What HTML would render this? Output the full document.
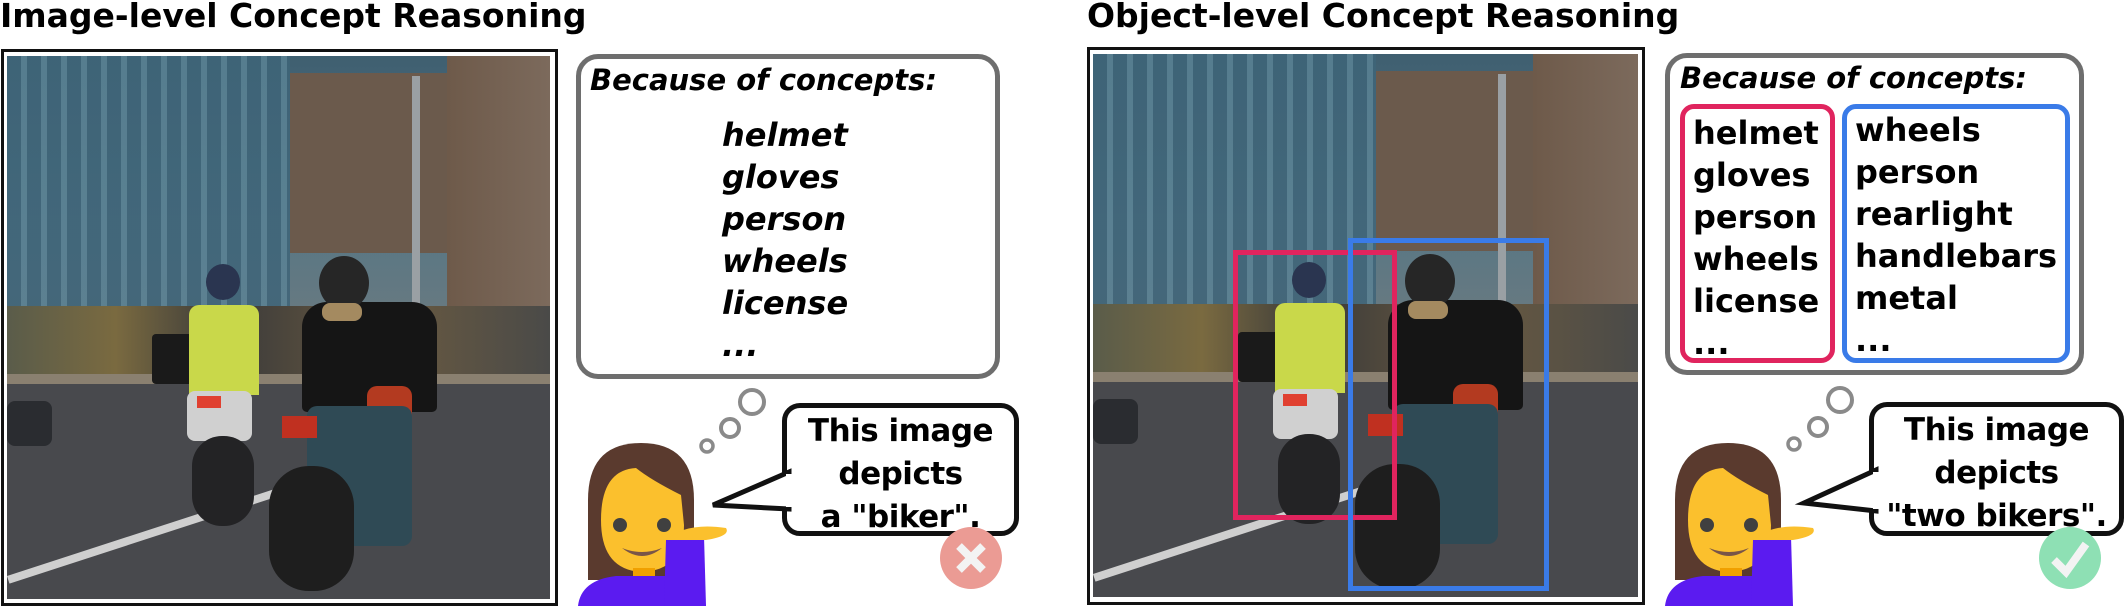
<!DOCTYPE html>
<html><head><meta charset="utf-8"><style>
body{margin:0;width:2126px;height:606px;background:#fff;position:relative;overflow:hidden;font-family:"DejaVu Sans","Liberation Sans",sans-serif;}
.a{position:absolute;}
.title{font-weight:bold;font-size:33px;top:-4px;white-space:nowrap;}
.frame{border:3px solid #111;background:#fff;}
.photo{position:absolute;width:543px;height:543px;overflow:hidden;background:linear-gradient(#3f5f70 0%,#567685 30%,#6a7a80 50%,#5a5a58 62%,#4b4c50 68%,#45464a 100%);}
.photo div{position:absolute;}
.cbox{border:5px solid #6e6e6e;border-radius:22px;background:#fff;box-sizing:border-box;}
.bec{font-weight:bold;font-style:italic;font-size:29px;white-space:nowrap;}
.li{font-weight:bold;font-size:32px;line-height:42px;white-space:pre;}
.bub{border:5px solid #111;border-radius:18px;background:#fff;box-sizing:border-box;font-weight:bold;font-size:31px;line-height:43px;text-align:center;white-space:nowrap;letter-spacing:-0.5px;}
</style></head><body>

<div class="a title" style="left:0;">Image-level Concept Reasoning</div>
<div class="a title" style="left:1087px;">Object-level Concept Reasoning</div>

<!-- left photo -->
<div class="a frame" style="left:1px;top:49px;width:551px;height:551px;"></div>
<div class="photo" style="left:7px;top:56px;">
  <div style="left:283px;top:17px;width:157px;height:180px;background:#6b5a4c;"></div>
  <div style="left:440px;top:0;width:103px;height:260px;background:linear-gradient(90deg,#6e5a4a,#7c6a5c);"></div>
  <div style="left:0;top:0;width:283px;height:290px;background:repeating-linear-gradient(90deg,#3e6478 0 14px,#5a8294 14px 20px);opacity:.85;"></div>
  <div style="left:0;top:250px;width:543px;height:70px;background:linear-gradient(90deg,#5a5c4a,#7a6a40 20%,#3a3a3a 40%,#6a5a40 70%,#4a4a48);"></div>
  <div style="left:0;top:318px;width:543px;height:10px;background:#8a8070;"></div>
  <div style="left:0;top:328px;width:543px;height:215px;background:#48494d;"></div>
  <div style="left:0;top:520px;width:300px;height:8px;background:#cfcfcf;transform:rotate(-18deg);transform-origin:0 0;"></div>
  <div style="left:405px;top:20px;width:8px;height:300px;background:#9aa0a4;"></div>
  <div style="left:145px;top:278px;width:50px;height:50px;background:#1a1a1a;border-radius:4px;"></div>
  <div style="left:182px;top:249px;width:70px;height:90px;background:#c9d84a;border-radius:10px 10px 0 0;"></div>
  <div style="left:199px;top:208px;width:34px;height:36px;background:#2a3550;border-radius:50%;"></div>
  <div style="left:180px;top:335px;width:65px;height:50px;background:#d0d0d0;border-radius:8px;"></div>
  <div style="left:185px;top:380px;width:62px;height:90px;background:#232325;border-radius:30px;"></div>
  <div style="left:190px;top:340px;width:24px;height:12px;background:#e04030;"></div>
  <div style="left:295px;top:246px;width:135px;height:110px;background:#151515;border-radius:25px 25px 5px 5px;"></div>
  <div style="left:312px;top:200px;width:50px;height:54px;background:#262626;border-radius:50%;"></div>
  <div style="left:315px;top:247px;width:40px;height:18px;background:#a48a60;border-radius:8px;"></div>
  <div style="left:360px;top:330px;width:45px;height:45px;background:#b33a20;border-radius:10px;"></div>
  <div style="left:300px;top:350px;width:105px;height:140px;background:#2f4a55;border-radius:10px;"></div>
  <div style="left:262px;top:410px;width:85px;height:125px;background:#1e1e1e;border-radius:40px;"></div>
  <div style="left:275px;top:360px;width:35px;height:22px;background:#c03020;"></div>
  <div style="left:0;top:345px;width:45px;height:45px;background:#2a2c30;border-radius:8px;"></div>
</div>

<!-- left concept box -->
<div class="a cbox" style="left:576px;top:54px;width:424px;height:325px;"></div>
<div class="a bec" style="left:590px;top:63px;">Because of concepts:</div>
<div class="a li" style="left:722px;top:114px;font-style:italic;">helmet
gloves
person
wheels
license
...</div>

<svg class="a" style="left:0;top:0" width="2126" height="606">
  <g fill="none" stroke="#8a8a8a">
    <circle cx="752" cy="402" r="12" stroke-width="4"/>
    <circle cx="730" cy="428" r="9" stroke-width="4"/>
    <circle cx="707" cy="446" r="6" stroke-width="3.5"/>
    <circle cx="1840" cy="400" r="12" stroke-width="4"/>
    <circle cx="1818" cy="427" r="9" stroke-width="4"/>
    <circle cx="1794" cy="444" r="6" stroke-width="3.5"/>
  </g>
</svg>
<div class="a bub" style="left:782px;top:403px;width:237px;height:133px;padding-top:2px;">This image<br>depicts<br>a "biker".</div>
<div class="a bub" style="left:1869px;top:402px;width:255px;height:134px;padding-top:2px;">This image<br>depicts<br>"two bikers".</div>

<!-- woman emojis -->
<svg class="a" style="left:576px;top:440px" width="160" height="166" viewBox="0 0 160 166">
  <path d="M12 140 L12 60 Q12 3 65 3 Q118 3 118 60 L118 140 Z" fill="#5a3a2e"/>
  <path d="M25 80 Q25 30 60 28 Q75 40 105 55 L108 85 Q108 130 66 132 Q25 130 25 80Z" fill="#fbc02d"/>
  <circle cx="44" cy="85" r="7" fill="#404040"/><circle cx="88" cy="85" r="7" fill="#404040"/>
  <path d="M46 108 Q66 124 86 108 Q66 116 46 108Z" fill="#795548"/>
  <rect x="57" y="128" width="22" height="16" fill="#f0a000"/>
  <path d="M2 166 Q5 140 40 136 L95 136 L100 166Z" fill="#5b1bf0"/>
  <path d="M88 166 L90 100 L128 96 L130 166Z" fill="#5b1bf0"/>
  <path d="M90 100 Q110 82 150 88 Q155 96 130 100 Z" fill="#fbc02d"/>
</svg>
<svg class="a" style="left:1663px;top:440px" width="160" height="166" viewBox="0 0 160 166">
  <path d="M12 140 L12 60 Q12 3 65 3 Q118 3 118 60 L118 140 Z" fill="#5a3a2e"/>
  <path d="M25 80 Q25 30 60 28 Q75 40 105 55 L108 85 Q108 130 66 132 Q25 130 25 80Z" fill="#fbc02d"/>
  <circle cx="44" cy="85" r="7" fill="#404040"/><circle cx="88" cy="85" r="7" fill="#404040"/>
  <path d="M46 108 Q66 124 86 108 Q66 116 46 108Z" fill="#795548"/>
  <rect x="57" y="128" width="22" height="16" fill="#f0a000"/>
  <path d="M2 166 Q5 140 40 136 L95 136 L100 166Z" fill="#5b1bf0"/>
  <path d="M88 166 L90 100 L128 96 L130 166Z" fill="#5b1bf0"/>
  <path d="M90 100 Q110 82 150 88 Q155 96 130 100 Z" fill="#fbc02d"/>
</svg>

<!-- right photo -->
<div class="a frame" style="left:1087px;top:47px;width:552px;height:552px;"></div>
<div class="photo" style="left:1093px;top:54px;width:545px;">
  <div style="left:283px;top:17px;width:157px;height:180px;background:#6b5a4c;"></div>
  <div style="left:440px;top:0;width:105px;height:260px;background:linear-gradient(90deg,#6e5a4a,#7c6a5c);"></div>
  <div style="left:0;top:0;width:283px;height:290px;background:repeating-linear-gradient(90deg,#3e6478 0 14px,#5a8294 14px 20px);opacity:.85;"></div>
  <div style="left:0;top:250px;width:545px;height:70px;background:linear-gradient(90deg,#5a5c4a,#7a6a40 20%,#3a3a3a 40%,#6a5a40 70%,#4a4a48);"></div>
  <div style="left:0;top:318px;width:545px;height:10px;background:#8a8070;"></div>
  <div style="left:0;top:328px;width:545px;height:215px;background:#48494d;"></div>
  <div style="left:0;top:520px;width:300px;height:8px;background:#cfcfcf;transform:rotate(-18deg);transform-origin:0 0;"></div>
  <div style="left:405px;top:20px;width:8px;height:300px;background:#9aa0a4;"></div>
  <div style="left:145px;top:278px;width:50px;height:50px;background:#1a1a1a;border-radius:4px;"></div>
  <div style="left:182px;top:249px;width:70px;height:90px;background:#c9d84a;border-radius:10px 10px 0 0;"></div>
  <div style="left:199px;top:208px;width:34px;height:36px;background:#2a3550;border-radius:50%;"></div>
  <div style="left:180px;top:335px;width:65px;height:50px;background:#d0d0d0;border-radius:8px;"></div>
  <div style="left:185px;top:380px;width:62px;height:90px;background:#232325;border-radius:30px;"></div>
  <div style="left:190px;top:340px;width:24px;height:12px;background:#e04030;"></div>
  <div style="left:295px;top:246px;width:135px;height:110px;background:#151515;border-radius:25px 25px 5px 5px;"></div>
  <div style="left:312px;top:200px;width:50px;height:54px;background:#262626;border-radius:50%;"></div>
  <div style="left:315px;top:247px;width:40px;height:18px;background:#a48a60;border-radius:8px;"></div>
  <div style="left:360px;top:330px;width:45px;height:45px;background:#b33a20;border-radius:10px;"></div>
  <div style="left:300px;top:350px;width:105px;height:140px;background:#2f4a55;border-radius:10px;"></div>
  <div style="left:262px;top:410px;width:85px;height:125px;background:#1e1e1e;border-radius:40px;"></div>
  <div style="left:275px;top:360px;width:35px;height:22px;background:#c03020;"></div>
  <div style="left:0;top:345px;width:45px;height:45px;background:#2a2c30;border-radius:8px;"></div>
</div>
<div class="a" style="left:1233px;top:250px;width:154px;height:260px;border:5px solid #e0245e;"></div>
<div class="a" style="left:1348px;top:238px;width:191px;height:343px;border:5px solid #3a7be8;"></div>

<!-- right concept box -->
<div class="a cbox" style="left:1665px;top:53px;width:419px;height:322px;"></div>
<div class="a bec" style="left:1680px;top:61px;">Because of concepts:</div>
<div class="a" style="left:1680px;top:104px;width:155px;height:259px;border:5px solid #e0245e;border-radius:14px;box-sizing:border-box;"></div>
<div class="a" style="left:1842px;top:104px;width:228px;height:259px;border:5px solid #3a7be8;border-radius:14px;box-sizing:border-box;"></div>
<div class="a li" style="left:1693px;top:112px;">helmet
gloves
person
wheels
license
...</div>
<div class="a li" style="left:1855px;top:109px;">wheels
person
rearlight
handlebars
metal
...</div>

<svg class="a" style="left:0;top:0" width="2126" height="606">
  <polygon points="789,472 713,505 789,509" fill="#fff" stroke="#111" stroke-width="5"/>
  <rect x="786" y="474" width="8" height="33" fill="#fff"/>
  <polygon points="1876,470 1804,503 1876,511" fill="#fff" stroke="#111" stroke-width="5"/>
  <rect x="1873" y="472" width="8" height="37" fill="#fff"/>
  <circle cx="971" cy="558" r="31" fill="#eb9b94"/>
  <path d="M959 546 L983 570 M983 546 L959 570" stroke="#f3f3f3" stroke-width="8"/>
  <circle cx="2070" cy="558" r="31" fill="#8ee0b4"/>
  <path d="M2054 560 L2066 572 L2086 544" stroke="#f3f3f3" stroke-width="8" fill="none"/>
</svg>
</body></html>
